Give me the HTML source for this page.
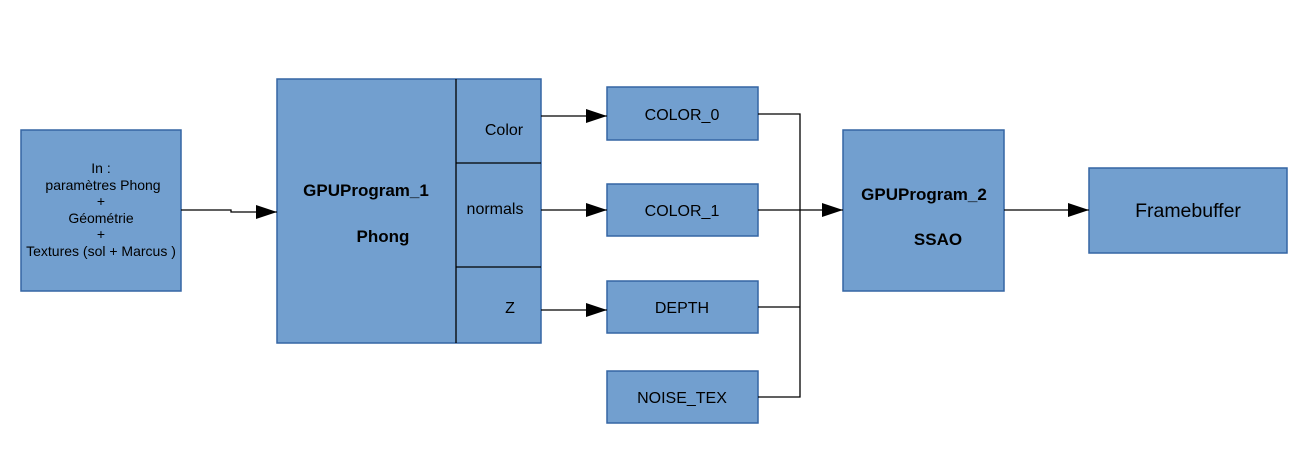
<!DOCTYPE html>
<html><head><style>
body{margin:0;width:1297px;height:457px;background:#fff;overflow:hidden}
svg text{font-family:"Liberation Sans",sans-serif;fill:#000}
</style></head><body>
<svg width="1297" height="457" viewBox="0 0 1297 457">
<defs><marker id="a" markerWidth="22" markerHeight="14" refX="21" refY="7" orient="auto" markerUnits="userSpaceOnUse"><path d="M0,0 L21,7 L0,14 z" fill="#000"/></marker></defs>
<g fill="#729fcf" stroke="#3465a4" stroke-width="1.5">
<rect x="21" y="130" width="160" height="161"/>
<rect x="277" y="79" width="264" height="264"/>
<rect x="607" y="87" width="151" height="53"/>
<rect x="607" y="184" width="151" height="52"/>
<rect x="607" y="281" width="151" height="52"/>
<rect x="607" y="371" width="151" height="52"/>
<rect x="843" y="130" width="161" height="161"/>
<rect x="1089" y="168" width="198" height="85"/>
</g>
<g stroke="#000" stroke-width="1.3" fill="none">
<line x1="456" y1="79" x2="456" y2="343"/>
<line x1="456" y1="163" x2="541" y2="163"/>
<line x1="456" y1="267" x2="541" y2="267"/>
<polyline points="181,210 231,210 231,212 277,212" marker-end="url(#a)"/>
<line x1="541" y1="116" x2="607" y2="116" marker-end="url(#a)"/>
<line x1="541" y1="210" x2="607" y2="210" marker-end="url(#a)"/>
<line x1="541" y1="310" x2="607" y2="310" marker-end="url(#a)"/>
<polyline points="758,114 800,114 800,397 758,397"/>
<line x1="758" y1="307" x2="800" y2="307"/>
<line x1="758" y1="210" x2="843" y2="210" marker-end="url(#a)"/>
<line x1="1004" y1="210" x2="1089" y2="210" marker-end="url(#a)"/>
</g>
<g font-size="14" text-anchor="middle">
<text x="101" y="173">In :</text>
<text x="103" y="190">paramètres Phong</text>
<text x="101" y="206">+</text>
<text x="101" y="223">Géométrie</text>
<text x="101" y="239">+</text>
<text x="101" y="256">Textures (sol + Marcus )</text>
</g>
<g font-size="17" font-weight="bold" text-anchor="middle">
<text x="366" y="196">GPUProgram_1</text>
<text x="383" y="242">Phong</text>
<text x="924" y="200">GPUProgram_2</text>
<text x="938" y="245">SSAO</text>
</g>
<g font-size="16" text-anchor="middle">
<text x="504" y="135">Color</text>
<text x="495" y="214">normals</text>
<text x="510" y="313">Z</text>
<text x="682" y="120">COLOR_0</text>
<text x="682" y="216">COLOR_1</text>
<text x="682" y="313">DEPTH</text>
<text x="682" y="403">NOISE_TEX</text>
<text x="1188" y="217" font-size="19.5">Framebuffer</text>
</g>
</svg>
</body></html>
